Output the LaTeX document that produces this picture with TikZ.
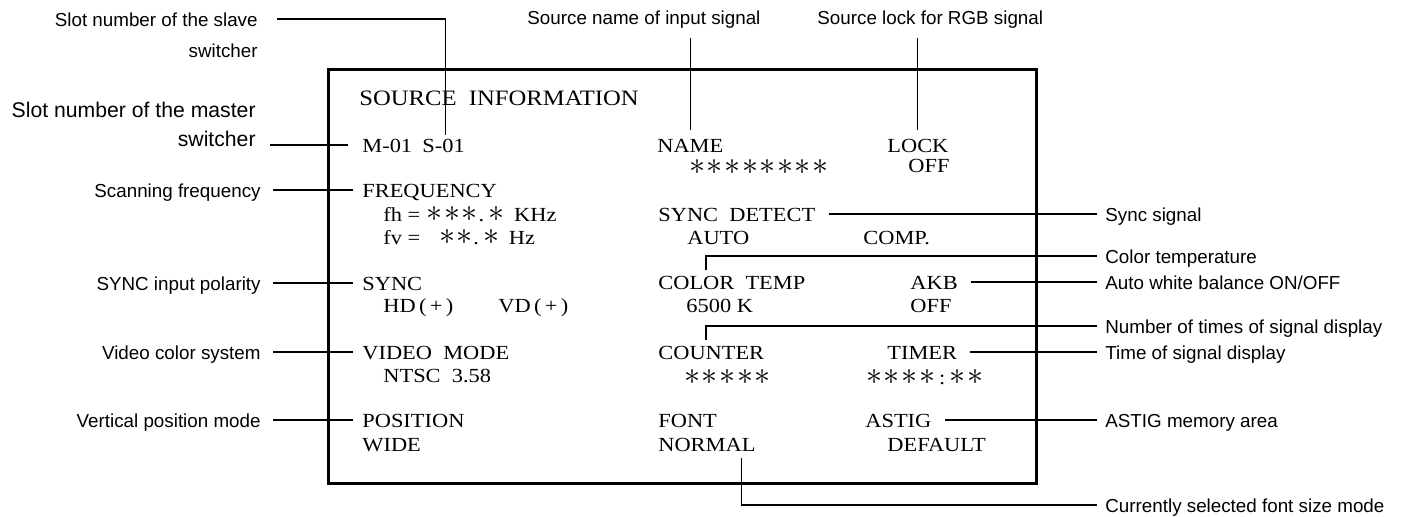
\documentclass[tikz,border=0pt]{standalone}
\usepackage{fix-cm}
\usepackage{fontspec}
\setmainfont{Liberation Serif}[FakeStretch=1.12]
\newfontfamily\lblfont{Liberation Sans}
\usepackage{tikz}
\usetikzlibrary{calc,positioning}
\newcommand\ak{{\fontsize{16}{16}\selectfont\kern0.4pt$\ast$\kern0.4pt}}
\tikzset{
  scr/.style={inner sep=0pt,anchor=base west,text height=8pt,text depth=0pt,
              font=\fontsize{10}{12}\selectfont},
  lbl/.style={inner sep=0pt,text height=8pt,text depth=0pt,
              font=\lblfont\fontsize{9.4}{11}\selectfont},
  mlbl/.style={lbl,font=\lblfont\fontsize{10.6}{12}\selectfont},
  lead/.style={line width=0.6pt},
  screenbox/.style={draw,line width=1.3pt,inner sep=0pt,
                    minimum width=354pt,minimum height=207pt},
}

\begin{document}
\begin{tikzpicture}[x=0.5pt,y=-0.5pt]
\useasboundingbox (0,0) rectangle (1405,517);
% monitor screen
\node[screenbox,anchor=north west] (screen) at (327,68) {};
\coordinate (lcol) at (261,0);
\coordinate (rcol) at (1105,0);

% screen text, left column
\node[scr,font=\fontsize{11}{13}\selectfont] (title) at (359,106) {SOURCE\ \ INFORMATION};
\node[scr] (m01) at (362,153) {M-01};
\node[scr] (s01) at (422,153) {S-01};
\node[scr] (freq) at (362,198) {FREQUENCY};
\node[scr] (fh) at (383,222) {fh = \ak\ak\ak.\,\ak\ \,KHz};
\node[scr] (fv) at (383,245) {fv =\hspace{9pt}\ak\ak.\,\ak\ \,Hz};
\node[scr] (sync) at (362,291) {SYNC};
\node[scr] (hd) at (383,313) {HD\,(\,+\,)};
\node[scr] (vd) at (498,313) {VD\,(\,+\,)};
\node[scr] (vmode) at (362,360) {VIDEO\ \ MODE};
\node[scr] (ntsc) at (383,383) {NTSC\ \ 3.58};
\node[scr] (pos) at (362,428) {POSITION};
\node[scr] (wide) at (362,452) {WIDE};

% screen text, middle and right columns
\node[scr] (name) at (657,153) {NAME};
\node[scr] (namev) at (688,175) {\ak\ak\ak\ak\ak\ak\ak\ak};
\node[scr] (lock) at (887,153) {LOCK};
\node[scr] (lockv) at (908,173) {OFF};
\node[scr] (syncdet) at (658,222) {SYNC\ \ DETECT};
\node[scr] (auto) at (687,245) {AUTO};
\node[scr] (comp) at (863,245) {COMP.};
\node[scr] (ctemp) at (658,290) {COLOR\ \ TEMP};
\node[scr] (k6500) at (686,313) {6500 K};
\node[scr] (akb) at (910,290) {AKB};
\node[scr] (akbv) at (910,313) {OFF};
\node[scr] (counter) at (658,360) {COUNTER};
\node[scr] (counterv) at (683,385) {\ak\ak\ak\ak\ak};
\node[scr] (timer) at (887,360) {TIMER};
\node[scr] (timerv) at (865,385) {\ak\ak\ak\ak\,:\,\ak\ak};
\node[scr] (font) at (658,428) {FONT};
\node[scr] (normal) at (658,452) {NORMAL};
\node[scr] (astig) at (865,428) {ASTIG};
\node[scr] (default) at (887,452) {DEFAULT};

% labels on the left
\node[lbl,anchor=base east] (slavea) at (258,27) {Slot number of the slave};
\node[lbl,anchor=base east] (slaveb) at (258,58) {switcher};
\node[mlbl,anchor=base east] (mastera) at (256,118) {Slot number of the master};
\node[mlbl,anchor=base east] (masterb) at (256,147) {switcher};
\node[lbl,anchor=east] (scanlbl) at (freq.west -| lcol) {Scanning frequency};
\node[lbl,anchor=east] (synclbl) at (sync.west -| lcol) {SYNC input polarity};
\node[lbl,anchor=east] (videolbl) at (vmode.west -| lcol) {Video color system};
\node[lbl,anchor=east] (poslbl) at (pos.west -| lcol) {Vertical position mode};

\draw[lead] ([xshift=9.5pt]slavea.east) -| ([xshift=1pt,yshift=1pt]s01.north);
\draw[lead] ($(masterb.east |- m01.west)+(14,0)$) -- ([xshift=-7pt]m01.west);
\draw[lead] ([xshift=6pt]scanlbl.east) -- ([xshift=-4.5pt]freq.west);
\draw[lead] ([xshift=6pt]synclbl.east) -- ([xshift=-4.5pt]sync.west);
\draw[lead] ([xshift=6pt]videolbl.east) -- ([xshift=-4.5pt]vmode.west);
\draw[lead] ([xshift=6pt]poslbl.east) -- ([xshift=-4.5pt]pos.west);

% labels on top
\node[lbl,anchor=base west] (srcname) at (527,25) {Source name of input signal};
\node[lbl,anchor=base west] (srclock) at (817,25) {Source lock for RGB signal};
\draw[lead] (srcname.south -| name.north) ++(0,13) -- ([yshift=3.5pt]name.north);
\draw[lead] (srclock.south -| lock.north) ++(0,13) -- ([yshift=3.5pt]lock.north);

% labels on the right
\node[lbl,anchor=west] (syncsig) at (syncdet.east -| rcol) {Sync signal};
\node[lbl,anchor=west] (ctlbl) at (1105,256) {Color temperature};
\node[lbl,anchor=west] (awblbl) at (akb.east -| rcol) {Auto white balance ON/OFF};
\node[lbl,anchor=west] (numlbl) at (1105,326) {Number of times of signal display};
\node[lbl,anchor=west] (timelbl) at (timer.east -| rcol) {Time of signal display};
\node[lbl,anchor=west] (astiglbl) at (astig.east -| rcol) {ASTIG memory area};
\node[lbl,anchor=west] (fontlbl) at (1105,505) {Currently selected font size mode};

\draw[lead] ([xshift=6.5pt]syncdet.east) -- ([xshift=-4pt]syncsig.west);
\draw[lead] ([xshift=24pt,yshift=2pt]ctemp.north west) |- ([xshift=-4pt]ctlbl.west);
\draw[lead] ([xshift=6.5pt]akb.east) -- ([xshift=-4pt]awblbl.west);
\draw[lead] ([xshift=24pt,yshift=2pt]counter.north west) |- ([xshift=-4pt]numlbl.west);
\draw[lead] ([xshift=6.5pt]timer.east) -- ([xshift=-4pt]timelbl.west);
\draw[lead] ([xshift=6.5pt]astig.east) -- ([xshift=-4pt]astiglbl.west);
\draw[lead] ([xshift=-7pt,yshift=-3pt]normal.south east) |- ([xshift=-4pt]fontlbl.west);
\end{tikzpicture}
\end{document}
